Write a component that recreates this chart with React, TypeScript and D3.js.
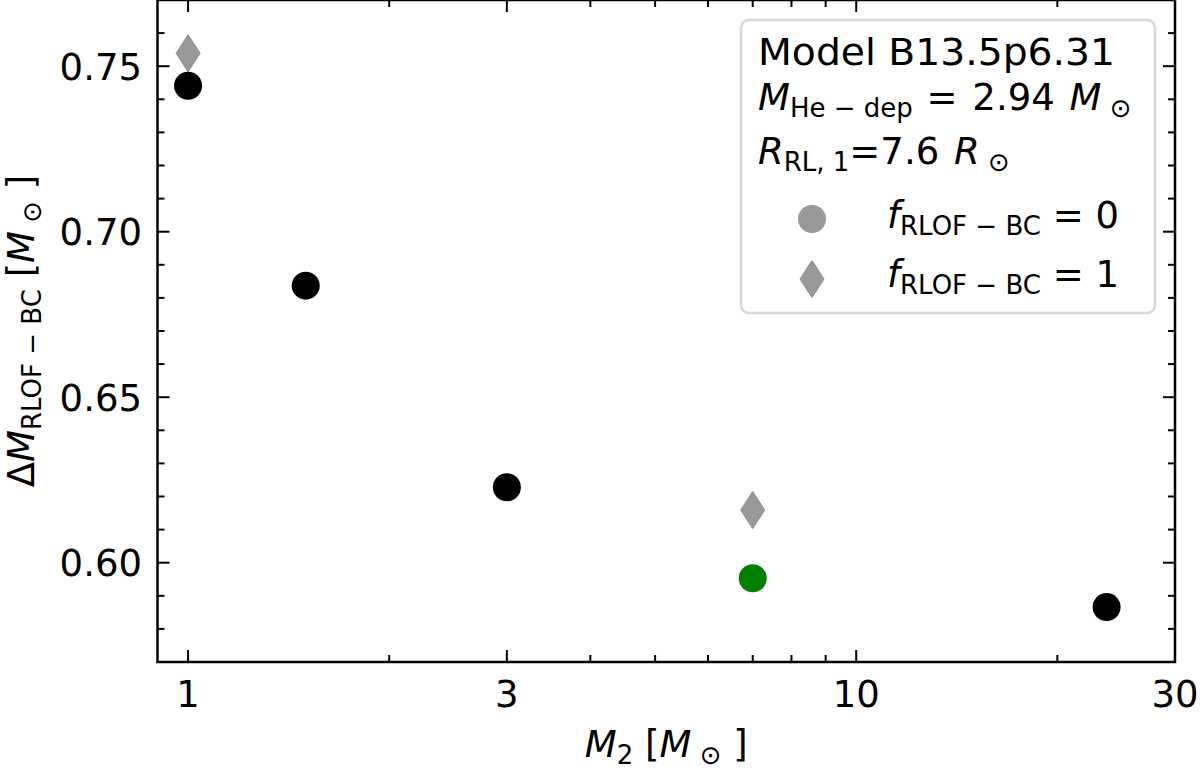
import React from "react";
import * as d3 from "d3";

// ---- data ----
const blackM2 = [1, 1.5, 3, 23.7];
const blackDM = [0.7441, 0.6837, 0.6228, 0.5866];
const greenM2 = [7];
const greenDM = [0.5953];
const diamondM2 = [1, 7];
const diamondDM = [0.7539, 0.6159];

const xMajor = [1, 3, 10, 30];
const xMajorLabels = ["1", "3", "10", "30"];
const xMinor = [2, 4, 5, 6, 7, 8, 9, 20];
const yMajor = [0.6, 0.65, 0.7, 0.75];
const yMajorLabels = ["0.60", "0.65", "0.70", "0.75"];
const yMinor = [0.57, 0.58, 0.59, 0.61, 0.62, 0.63, 0.64, 0.66, 0.67, 0.68, 0.69, 0.71, 0.72, 0.73, 0.74, 0.76, 0.77];

const FONT = "DejaVu Sans";
const FS = 37;
const SFS = 26;
const SUBDY = 7;

type Seg = { t: string; it?: boolean; sub?: boolean; dx?: number };

function MathText(props: {
  segs: Seg[];
  x: number;
  y: number;
  anchor?: string;
  transform?: string;
  fill?: string;
}) {
  const { segs, x, y, anchor = "start", transform, fill = "#000" } = props;
  let inSub = false;
  const spans = segs.map((s, i) => {
    let dy = 0;
    if (s.sub && !inSub) dy = SUBDY;
    if (!s.sub && inSub) dy = -SUBDY;
    inSub = !!s.sub;
    return (
      <tspan
        key={i}
        dy={dy}
        dx={s.dx || 0}
        fontSize={s.sub ? SFS : FS}
        fontStyle={s.it ? "italic" : "normal"}
        style={{ whiteSpace: "pre" }}
      >
        {s.t}
      </tspan>
    );
  });
  return (
    <text
      x={x}
      y={y}
      textAnchor={anchor}
      transform={transform}
      fontFamily={FONT}
      fontSize={FS}
      fill={fill}
      style={{ whiteSpace: "pre" }}
    >
      {spans}
    </text>
  );
}

export default function App() {
  const left = 157.5;
  const right = 1175;
  const top = 0;
  const bottom = 662;

  const x = d3.scaleLog().domain([0.9, 30]).range([left, right]);
  const y = d3.scaleLinear().domain([0.57, 0.77]).range([bottom, top]);

  const majLen = 12;
  const minLen = 7;
  const tickW = 2;

  const diamondPath = (cx: number, cy: number) =>
    `M${cx},${cy - 18.5}L${cx + 12},${cy}L${cx},${cy + 18.5}L${cx - 12},${cy}Z`;

  return (
    <svg
      width={1200}
      height={771}
      style={{ position: "absolute", left: 0, top: 0, background: "#fff" }}
    >
      <rect x={0} y={0} width={1200} height={771} fill="#fff" />

      {/* ticks */}
      <g stroke="#000" strokeWidth={tickW}>
        {xMajor.map((v, i) => (
          <g key={"xM" + i}>
            <line x1={x(v)} x2={x(v)} y1={bottom} y2={bottom - majLen} />
            <line x1={x(v)} x2={x(v)} y1={top} y2={top + majLen} />
          </g>
        ))}
        {xMinor.map((v, i) => (
          <g key={"xm" + i}>
            <line x1={x(v)} x2={x(v)} y1={bottom} y2={bottom - minLen} />
            <line x1={x(v)} x2={x(v)} y1={top} y2={top + minLen} />
          </g>
        ))}
        {yMajor.map((v, i) => (
          <g key={"yM" + i}>
            <line x1={left} x2={left + majLen} y1={y(v)} y2={y(v)} />
            <line x1={right} x2={right - majLen} y1={y(v)} y2={y(v)} />
          </g>
        ))}
        {yMinor.map((v, i) => (
          <g key={"ym" + i}>
            <line x1={left} x2={left + minLen} y1={y(v)} y2={y(v)} />
            <line x1={right} x2={right - minLen} y1={y(v)} y2={y(v)} />
          </g>
        ))}
      </g>

      {/* tick labels */}
      <g fontFamily={FONT} fontSize={FS} fill="#000">
        {xMajor.map((v, i) => (
          <text key={"xl" + i} x={x(v)} y={bottom + 45} textAnchor="middle">
            {xMajorLabels[i]}
          </text>
        ))}
        {yMajor.map((v, i) => (
          <text key={"yl" + i} x={left - 15.5} y={y(v)} dy="0.36em" textAnchor="end">
            {yMajorLabels[i]}
          </text>
        ))}
      </g>

      {/* data */}
      {diamondM2.map((v, i) => (
        <path
          key={"d" + i}
          d={diamondPath(x(v), y(diamondDM[i]))}
          fill="#999999"
          stroke="#8c8c8c"
          strokeWidth={1}
        />
      ))}
      {blackM2.map((v, i) => (
        <circle key={"b" + i} cx={x(v)} cy={y(blackDM[i])} r={14} fill="#000" />
      ))}
      {greenM2.map((v, i) => (
        <circle key={"g" + i} cx={x(v)} cy={y(greenDM[i])} r={14} fill="#008000" />
      ))}

      {/* legend */}
      <rect
        x={741}
        y={20}
        width={414}
        height={293}
        rx={8}
        fill="#fff"
        fillOpacity={0.8}
        stroke="#d6d6d6"
        strokeWidth={2.5}
      />
      <text
        x={758}
        y={65}
        fontFamily={FONT}
        fontSize={38}
        textLength={357}
        lengthAdjust="spacingAndGlyphs"
        fill="#000"
      >
        Model B13.5p6.31
      </text>
      <MathText
        x={758}
        y={110}
        segs={[
          { t: "M", it: true },
          { t: "He − dep", sub: true },
          { t: " =", dx: 2 },
          { t: " 2.94 ", dx: 3 },
          { t: "M", it: true, dx: 3 },
          { t: " ⊙", sub: true },
        ]}
      />
      <MathText
        x={758}
        y={164}
        segs={[
          { t: "R", it: true },
          { t: "RL, 1", sub: true },
          { t: "=7.6 " },
          { t: "R", it: true, dx: 3 },
          { t: " ⊙", sub: true },
        ]}
      />
      <circle cx={812} cy={219} r={14} fill="#999999" />
      <path d={diamondPath(812, 279)} fill="#999999" stroke="#8c8c8c" strokeWidth={1} />
      <MathText
        x={887}
        y={228}
        segs={[
          { t: "f", it: true },
          { t: "RLOF − BC", sub: true },
          { t: " = 0" },
        ]}
      />
      <MathText
        x={887}
        y={287}
        segs={[
          { t: "f", it: true },
          { t: "RLOF − BC", sub: true },
          { t: " = 1" },
        ]}
      />

      {/* axis labels */}
      <MathText
        x={(left + right) / 2}
        y={757}
        anchor="middle"
        segs={[
          { t: "M", it: true },
          { t: "2", sub: true },
          { t: " [" },
          { t: "M", it: true },
          { t: " ⊙", sub: true },
          { t: " ]" },
        ]}
      />
      <MathText
        x={0}
        y={0}
        anchor="middle"
        transform={`translate(34,${(top + bottom) / 2}) rotate(-90)`}
        segs={[
          { t: "Δ" },
          { t: "M", it: true },
          { t: "RLOF − BC", sub: true },
          { t: " [" },
          { t: "M", it: true },
          { t: " ⊙", sub: true },
          { t: " ]" },
        ]}
      />

      {/* spines */}
      <rect
        x={left}
        y={top}
        width={right - left}
        height={bottom - top}
        fill="none"
        stroke="#000"
        strokeWidth={2.5}
      />
    </svg>
  );
}
